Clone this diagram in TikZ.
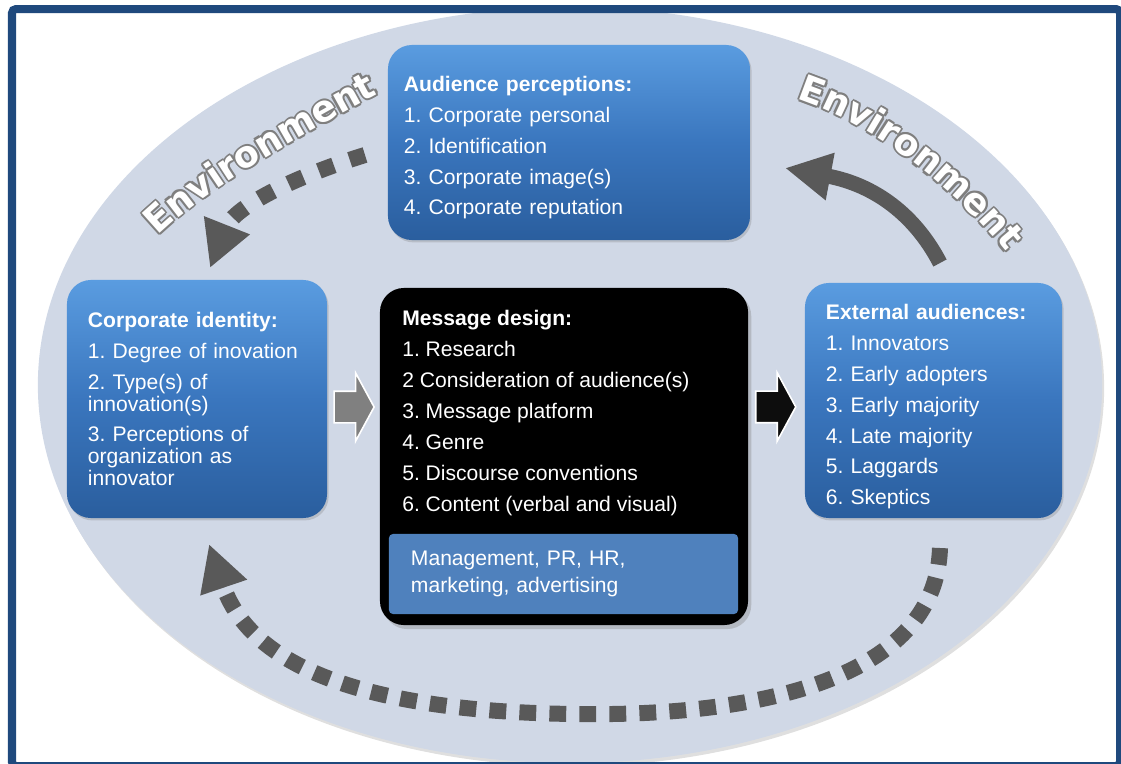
\documentclass[tikz,border=0pt]{standalone}
\usepackage{fontspec}
\setmainfont{Liberation Sans}
\newfontfamily\envfont{DejaVu Sans}
\usetikzlibrary{positioning,shapes.arrows,shadows,decorations.text,arrows.meta}
\definecolor{framecol}{HTML}{1F497D}
\definecolor{ovalcol}{HTML}{D0D8E6}
\definecolor{boxtop}{HTML}{5A9CE0}
\definecolor{boxmid}{HTML}{3A76BE}
\definecolor{boxbot}{HTML}{2A5E9E}
\definecolor{mgmtcol}{HTML}{4F81BD}
\definecolor{arrowcol}{HTML}{595959}
\definecolor{arrowgray}{HTML}{808080}
\definecolor{arrowblack}{HTML}{0D0D0D}
\definecolor{envgray}{HTML}{7F7F7F}
\newcommand{\envstyle}{\envfont\bfseries\fontsize{26}{26}\selectfont}
\frenchspacing

\begin{document}
\begin{tikzpicture}[x=0.025cm, y=-0.025cm,
        panel/.style={rounded corners=0.6cm, top color=boxtop, bottom color=boxbot, middle color=boxmid, text=white, align=left, font=\fontsize{15}{22}\selectfont, drop shadow={opacity=0.3, shadow xshift=0.04cm, shadow yshift=-0.06cm}},
        blockarrow/.style={single arrow, draw=white, line width=0.04cm, minimum height=1cm, single arrow head extend=0.46cm, single arrow tip angle=123, inner xsep=0pt, inner ysep=0.375cm},
        loopline/.style={draw=arrowcol, line width=0.4cm, dash pattern=on 0.4cm off 0.42cm, -{Triangle[length=1.15cm, width=1.15cm]}},
        envtext/.style={decorate, decoration={text along path, text align=center, text={|\envstyle\color{#1}|Environment}}}]
        \useasboundingbox (0,0) rectangle (1121,764);
        \fill[ovalcol, drop shadow={opacity=0.25, shadow xshift=0.05cm, shadow yshift=-0.08cm}] (570,385) ellipse [x radius=13.3cm, y radius=9.45cm];
        \node[panel, minimum width=9.05cm, minimum height=4.875cm, text width=8.25cm, inner xsep=0.4cm] (aud) at (569,142.5) {\rule{0pt}{0.64cm}\textbf{Audience perceptions:}\\ 1. Corporate personal\\ 2. Identification\\ 3. Corporate image(s)\\ 4. Corporate reputation};
        \node[panel, minimum width=6.5cm, minimum height=5.95cm, text width=5.45cm, inner xsep=0.525cm] (ci) at (197,399) {\textbf{Corporate identity:}\\ 1. Degree of inovation\\ 2. Type(s) of\\[-6.4pt] innovation(s)\\ 3. Perceptions of\\[-6.4pt] organization as\\[-6.4pt] innovator};
        \node[panel, minimum width=6.425cm, minimum height=5.875cm, text width=5.375cm, inner xsep=0.525cm] (ext) at (933.5,400.5) {\rule{0pt}{0.69cm}\textbf{External audiences:}\\ 1. Innovators\\ 2. Early adopters\\ 3. Early majority\\ 4. Late majority\\ 5. Laggards\\ 6. Skeptics};
        \node[fill=black, rounded corners=0.6cm, minimum width=9.2cm, minimum height=8.425cm, drop shadow={opacity=0.35, shadow xshift=0.08cm, shadow yshift=-0.1cm}] (msgbox) at (564,456.5) {};
        \node[anchor=north west, inner sep=0pt, text=white, align=left, font=\fontsize{15}{22}\selectfont] (msg) at (402,310) {\textbf{Message design:}\\ 1. Research\\ 2 Consideration of audience(s)\\ 3. Message platform\\ 4. Genre\\ 5. Discourse conventions\\ 6. Content (verbal and visual)};
        \node[fill=mgmtcol, rounded corners=0.1cm, minimum width=8.725cm, minimum height=2cm, text width=7.625cm, inner xsep=0.55cm, text=white, align=left, font=\fontsize{15}{19}\selectfont] (mgmt) at (563.5,574) {Management, PR, HR,\\ marketing, advertising};
        \node[blockarrow, fill=arrowgray, right=0.15cm of ci, yshift=-0.2cm] (toMsg) {};
        \node[blockarrow, fill=arrowblack, left=0.2cm of ext, yshift=-0.16cm] (toExt) {};
        \coordinate (extTop) at (940,263);
        \coordinate (audRight) at (785,168);
        \coordinate (audLeft) at (365,155);
        \coordinate (ciTop) at (210,268);
        \coordinate (extBot) at (940,548);
        \coordinate (ciBot) at (209,544);
        \draw[arrowcol, line width=0.375cm, -{Triangle[length=1.15cm, width=1.125cm]}] (extTop) .. controls (915,215) and (875,185) .. (audRight);
        \draw[loopline] (audLeft) .. controls (300,175) and (235,205) .. (ciTop);
        \draw[loopline, dash pattern=on 0.42cm off 0.33cm] (extBot) .. controls (935,700) and (700,716) .. (575,714) .. controls (400,712) and (255,680) .. (ciBot);
        \foreach \dx/\dy in {2/0, -2/0, 0/2, 0/-2, 1.4/1.4, 1.4/-1.4, -1.4/1.4, -1.4/-1.4} {
            \path[envtext=envgray, shift={(\dx,\dy)}] (145,250) .. controls (185,200) and (300,136) .. (395,85);
            \path[envtext=envgray, shift={(\dx,\dy)}] (775,93) .. controls (845,108) and (946,171) .. (1020,270);
        }
        \path[envtext=white] (145,250) .. controls (185,200) and (300,136) .. (395,85);
        \path[envtext=white] (775,93) .. controls (845,108) and (946,171) .. (1020,270);
        \draw[framecol, line width=0.2cm, rounded corners=0.1cm] (12,9) rectangle (1120,766);
\end{tikzpicture}
\end{document}
